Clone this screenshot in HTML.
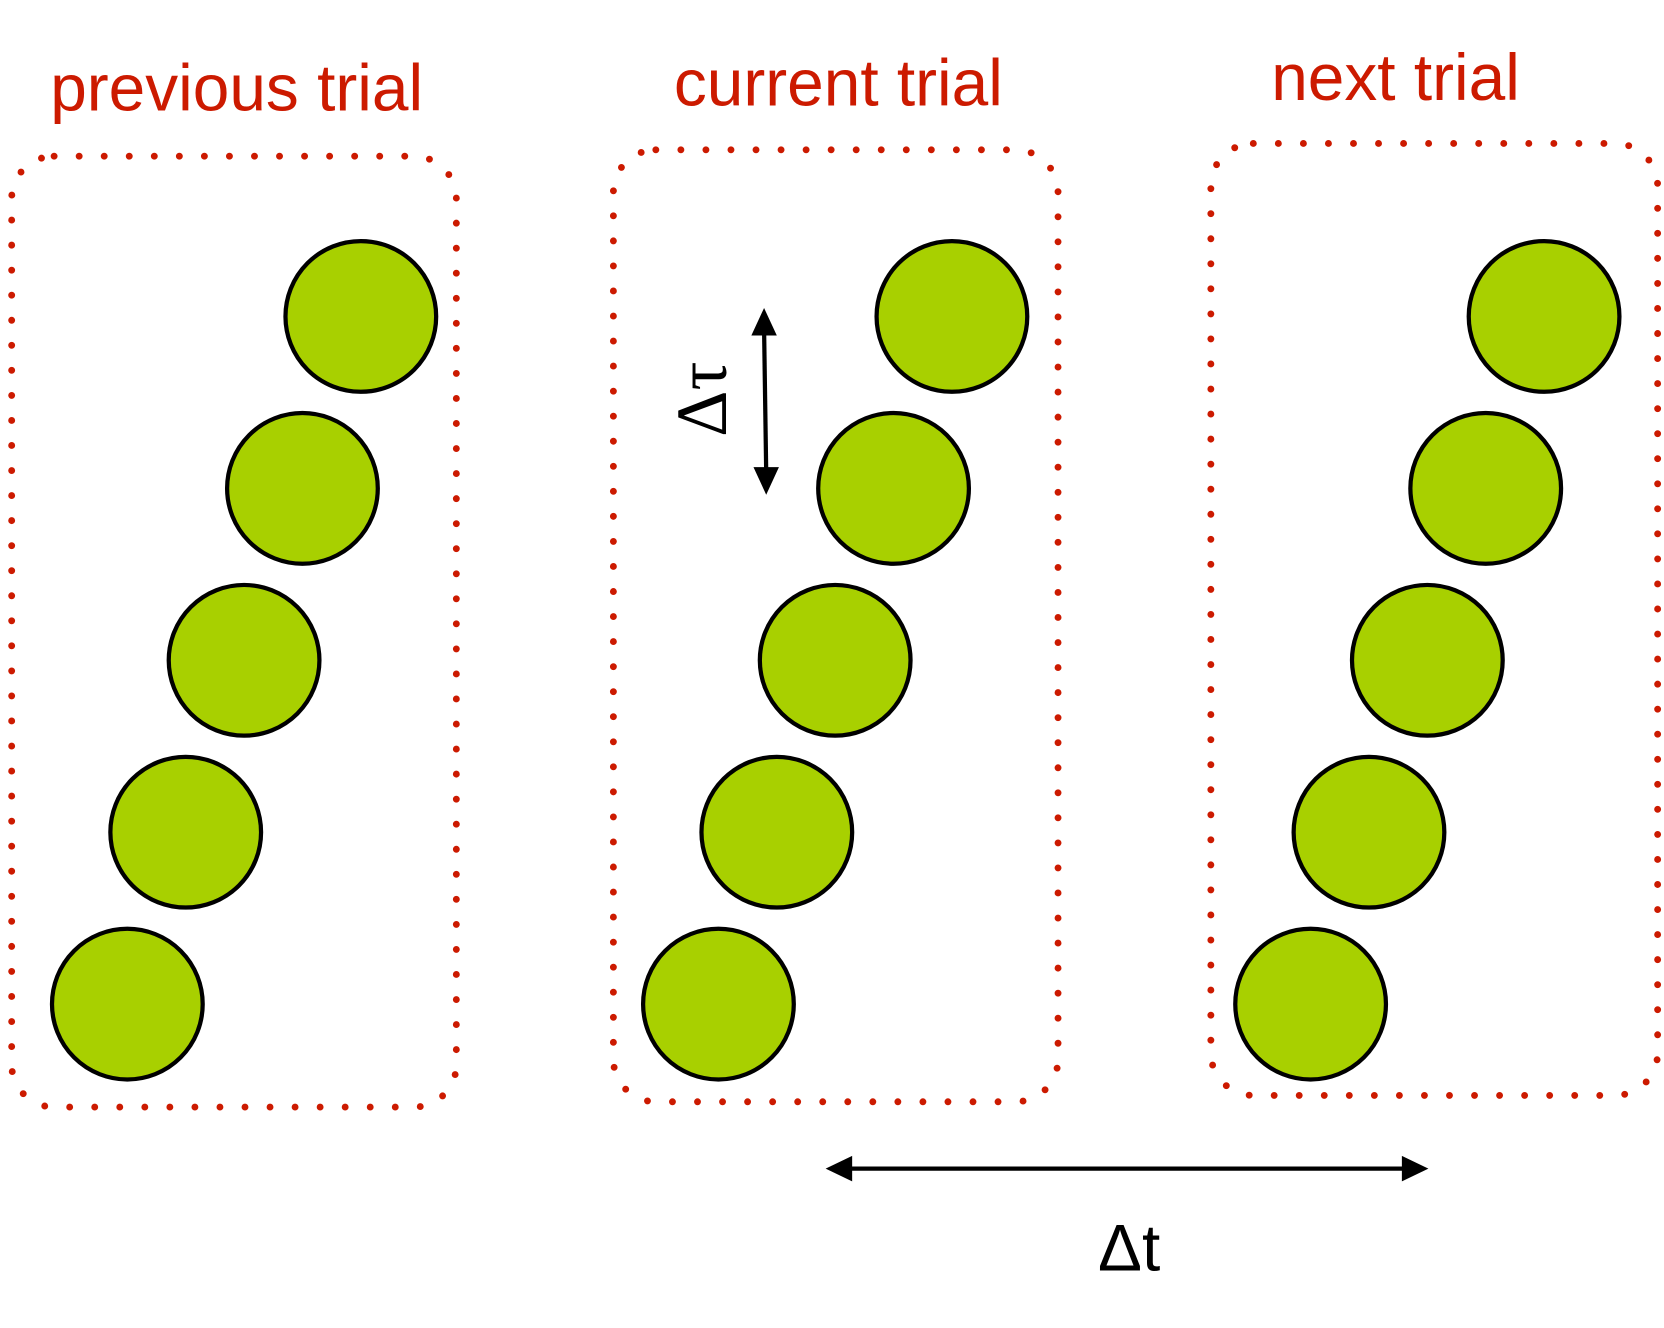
<!DOCTYPE html>
<html><head><meta charset="utf-8"><style>html,body{margin:0;padding:0;background:#fff}svg{display:block}</style></head>
<body>
<svg width="1664" height="1328" viewBox="0 0 1568 1251" xmlns="http://www.w3.org/2000/svg">
<rect width="1568" height="1251" fill="#fff"/>
<g fill="none" stroke="#cc1a00" stroke-width="6.5" stroke-linecap="round" stroke-dasharray="0 23.6">
<rect x="11" y="147" width="419" height="896" rx="40"/>
<rect x="578" y="141" width="419" height="897" rx="40"/>
<rect x="1141" y="135" width="421" height="897" rx="40"/>
</g>
<g font-family="Liberation Sans, sans-serif" font-size="62" fill="#cc1a00" text-anchor="middle">
<text x="223" y="104">previous trial</text>
<text x="790" y="99">current trial</text>
<text x="1315" y="94">next trial</text>
</g>
<g fill="#a8d000" stroke="#000" stroke-width="4">
<circle cx="340" cy="298" r="71"/><circle cx="285" cy="460" r="71"/><circle cx="230" cy="622" r="71"/><circle cx="175" cy="784" r="71"/><circle cx="120" cy="946" r="71"/>
<circle cx="897" cy="298" r="71"/><circle cx="842" cy="460" r="71"/><circle cx="787" cy="622" r="71"/><circle cx="732" cy="784" r="71"/><circle cx="677" cy="946" r="71"/>
<circle cx="1455" cy="298" r="71"/><circle cx="1400" cy="460" r="71"/><circle cx="1345" cy="622" r="71"/><circle cx="1290" cy="784" r="71"/><circle cx="1235" cy="946" r="71"/>
</g>
<line x1="720" y1="310" x2="722" y2="445" stroke="#000" stroke-width="4"/>
<polygon points="720,290 708,316 732,316" fill="#000"/>
<polygon points="722,466 710,440 734,440" fill="#000"/>
<text transform="translate(684,376) rotate(-90)" font-family="Liberation Serif, serif" font-size="68" text-anchor="middle" fill="#000">Δτ</text>
<line x1="800" y1="1101" x2="1324" y2="1101" stroke="#000" stroke-width="4"/>
<polygon points="778,1101 803,1089 803,1113" fill="#000"/>
<polygon points="1346,1101 1321,1089 1321,1113" fill="#000"/>
<text x="1064" y="1197" font-family="Liberation Sans, sans-serif" font-size="62" text-anchor="middle" fill="#000">Δt</text>
</svg>
</body></html>
